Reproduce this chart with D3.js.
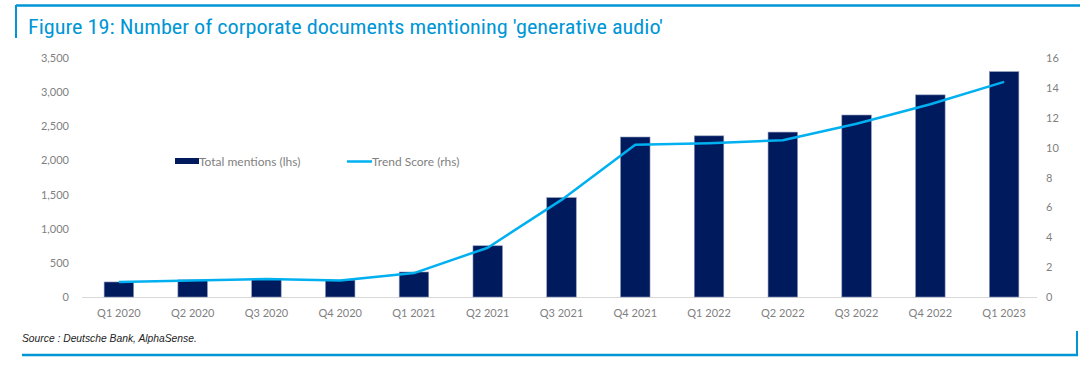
<!DOCTYPE html>
<html>
<head>
<meta charset="utf-8">
<script src="https://cdn.jsdelivr.net/npm/d3@7"></script>
<style>
  body { margin: 0; background: #fff; }
  svg { display: block; }
</style>
</head>
<body>
<div id="chart"></div>
<script>
// quarters on the x axis
const quarters = ["Q1 2020", "Q2 2020", "Q3 2020", "Q4 2020", "Q1 2021", "Q2 2021", "Q3 2021",
                  "Q4 2021", "Q1 2022", "Q2 2022", "Q3 2022", "Q4 2022", "Q1 2023"];
// Total mentions (lhs)
const mentions = [220, 250, 262, 248, 366, 750, 1455, 2343, 2360, 2415, 2665, 2960, 3300];
// Trend score (rhs)
const trendScore = [1.0, 1.1, 1.2, 1.1, 1.6, 3.3, 6.5, 10.2, 10.3, 10.5, 11.6, 12.9, 14.4];
const leftTicks = [0, 500, 1000, 1500, 2000, 2500, 3000, 3500];
const rightTicks = [0, 2, 4, 6, 8, 10, 12, 14, 16];

const W = 1080, H = 365;
const blue = "#0096d6", navy = "#001a5e", lineBlue = "#00b0f0", grey = "#7f7f7f";
const axisFont = "Lato, 'Open Sans', sans-serif";

var svg = d3.select("#chart")
    .append("svg")
    .attr("width", W)
    .attr("height", H);

// frame lines
svg.append("line").attr("x1", 16).attr("x2", W).attr("y1", 5.5).attr("y2", 5.5)
    .attr("stroke", blue).attr("stroke-width", 2.5);
svg.append("line").attr("x1", 16).attr("x2", 16).attr("y1", 5).attr("y2", 38)
    .attr("stroke", blue).attr("stroke-width", 2);
svg.append("line").attr("x1", 22).attr("x2", 1078).attr("y1", 355).attr("y2", 355)
    .attr("stroke", blue).attr("stroke-width", 2.5);
svg.append("line").attr("x1", 1077).attr("x2", 1077).attr("y1", 331).attr("y2", 355)
    .attr("stroke", blue).attr("stroke-width", 2);

svg.append("text")
    .attr("x", 28)
    .attr("y", 34)
    .text("Figure 19: Number of corporate documents mentioning 'generative audio'")
    .attr("font-family", "'Liberation Sans Narrow', 'Roboto Condensed', Roboto, sans-serif")
    .attr("font-size", "20px")
    .attr("textLength", 635)
    .attr("lengthAdjust", "spacingAndGlyphs")
    .attr("fill", blue);

// plot area
const plotTop = 58, plotBottom = 297, plotLeft = 82, plotRight = 1041;

var x = d3.scaleBand().domain(quarters).range([plotLeft, plotRight]).paddingInner(0.6).paddingOuter(0.3);
var yL = d3.scaleLinear().domain([0, 3500]).range([plotBottom, plotTop]);
var yR = d3.scaleLinear().domain([0, 16]).range([plotBottom, plotTop]);

// baseline
svg.append("line").attr("x1", plotLeft).attr("x2", 1037).attr("y1", plotBottom + 0.5).attr("y2", plotBottom + 0.5)
    .attr("stroke", "#d9d9d9").attr("stroke-width", 1);

// bars
svg.selectAll("rect.bar")
    .data(quarters)
    .enter()
    .append("rect")
    .attr("class", "bar")
    .attr("x", (d) => x(d))
    .attr("width", x.bandwidth())
    .attr("y", (d, i) => yL(mentions[i]))
    .attr("height", (d, i) => plotBottom - yL(mentions[i]))
    .attr("fill", navy)
    .attr("stroke", "#8a96b8")
    .attr("stroke-width", 0.6);

// trend line
var line = d3.line()
    .x((d, i) => x(quarters[i]) + x.bandwidth() / 2)
    .y((d) => yR(d));
svg.append("path")
    .datum(trendScore)
    .attr("d", line)
    .attr("fill", "none")
    .attr("stroke", lineBlue)
    .attr("stroke-width", 2.5)
    .attr("stroke-linejoin", "round");

// left axis
var axL = svg.append("g")
    .attr("transform", "translate(72,0)")
    .call(d3.axisLeft(yL).tickValues(leftTicks).tickSize(0).tickFormat(d3.format(",")));
axL.select(".domain").remove();
axL.selectAll("text").attr("font-family", axisFont).attr("font-size", "11px").attr("fill", grey).attr("dx", 0);

// right axis
var axR = svg.append("g")
    .attr("transform", "translate(1043,0)")
    .call(d3.axisRight(yR).tickValues(rightTicks).tickSize(0));
axR.select(".domain").remove();
axR.selectAll("text").attr("font-family", axisFont).attr("font-size", "11px").attr("fill", grey).attr("dx", 0);

// x axis
var axX = svg.append("g")
    .attr("transform", "translate(0," + (plotBottom + 9) + ")")
    .call(d3.axisBottom(x).tickSize(0));
axX.select(".domain").remove();
axX.selectAll("text").attr("font-family", axisFont).attr("font-size", "11px").attr("fill", grey);

// legend
svg.append("rect").attr("x", 175).attr("y", 158).attr("width", 24).attr("height", 6).attr("fill", navy);
svg.append("text").attr("x", 199).attr("y", 165.5).text("Total mentions (lhs)")
    .attr("font-family", axisFont).attr("font-size", "12px").attr("fill", grey);
svg.append("line").attr("x1", 347).attr("x2", 372).attr("y1", 161.5).attr("y2", 161.5)
    .attr("stroke", lineBlue).attr("stroke-width", 2.5);
svg.append("text").attr("x", 372).attr("y", 165.5).text("Trend Score (rhs)")
    .attr("font-family", axisFont).attr("font-size", "12px").attr("fill", grey);

// source
svg.append("text")
    .attr("x", 22)
    .attr("y", 342)
    .text("Source : Deutsche Bank, AlphaSense.")
    .attr("font-family", "'Liberation Sans', Arial, sans-serif")
    .attr("font-style", "italic")
    .attr("font-size", "10.3px")
    .attr("fill", "#222");
</script>
</body>
</html>
